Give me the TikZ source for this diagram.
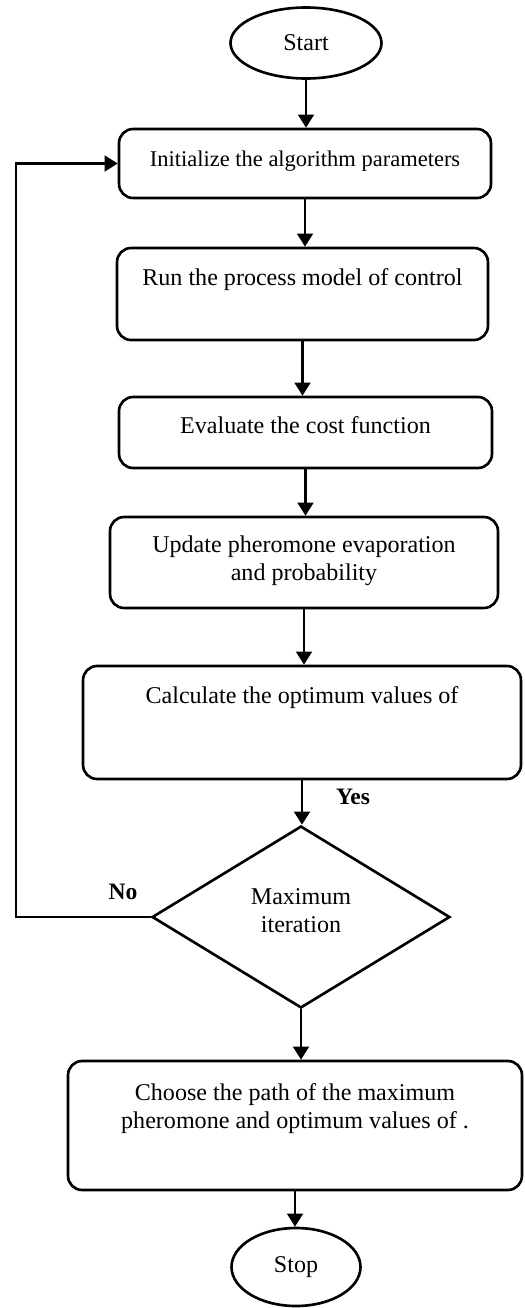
\documentclass[tikz,border=0pt]{standalone}
\usepackage{fontspec}
\setmainfont{Liberation Serif}
\usetikzlibrary{arrows.meta,positioning,shapes.geometric}

\begin{document}
\begin{tikzpicture}[x=0.02cm,y=-0.02cm,line width=1.5pt,>={Triangle[length=7.5pt,width=9pt]},
  box/.style={draw,rounded corners=0.28cm,inner sep=0pt},
  term/.style={draw,ellipse,inner sep=0pt},
  txt/.style={inner sep=0pt,align=center,font=\fontsize{13.7}{15.9}\selectfont},
  lbl/.style={inner sep=0pt,font=\fontsize{13.4}{15}\selectfont\bfseries}]
\useasboundingbox (0,0) rectangle (524,1308);
% terminals
\node[term,txt,minimum width=3.02cm,minimum height=1.42cm] (start) at (306,43) {Start};
\node[term,txt,minimum width=2.58cm,minimum height=1.56cm] (stop) at (296,1267) {Stop};
% process boxes, text set near the top
\node[box,minimum width=7.44cm,minimum height=1.38cm] (init) at (305,163.5) {};
\node[txt,font=\fontsize{12.8}{15}\selectfont,below=0.44cm of init.north] (init-t) {Initialize the algorithm parameters};
\node[box,minimum width=7.42cm,minimum height=1.84cm] (run) at (302.5,294) {};
\node[txt,below=0.41cm of run.north] (run-t) {Run the process model of control};
\node[box,minimum width=7.46cm,minimum height=1.42cm] (eval) at (305.5,432.5) {};
\node[txt,below=0.4cm of eval.north] (eval-t) {Evaluate the cost function};
\node[box,minimum width=7.76cm,minimum height=1.82cm] (upd) at (304,562.5) {};
\node[txt,below=0.38cm of upd.north] (upd-t) {Update pheromone evaporation\\and probability};
\node[box,minimum width=8.76cm,minimum height=2.26cm] (calc) at (302,722.5) {};
\node[txt,below=0.41cm of calc.north] (calc-t) {Calculate the optimum values of};
% decision
\node[draw,diamond,inner sep=0pt,minimum width=5.96cm,minimum height=3.64cm] (dec) at (301,917) {};
\node[txt] (dec-t) at ([yshift=0.12cm]dec.center) {Maximum\\iteration};
\node[box,minimum width=9.08cm,minimum height=2.58cm] (choose) at (295,1125.5) {};
\node[txt,below=0.45cm of choose.north] (choose-t) {Choose the path of the maximum\\pheromone and optimum values of .};
% branch labels
\node[lbl] (yes) at (353,797) {Yes};
\node[lbl] (no) at (123,892) {No};
% connectors
\draw[->] (start.south) -- (start.south |- init.north);
\draw[->] (init.south) -- (init.south |- run.north);
\draw[->] (run.south) -- (run.south |- eval.north);
\draw[->] (eval.south) -- (eval.south |- upd.north);
\draw[->] (upd.south) -- (upd.south |- calc.north);
\draw[->] (calc.south) -- (calc.south |- dec.north);
\draw[->] (dec.south) -- (dec.south |- choose.north);
\draw[->] (choose.south) -- (choose.south |- stop.north);
\coordinate (back) at (16,917);
\draw[->] (dec.west) -- (back) |- (init.west);
\end{tikzpicture}
\end{document}
